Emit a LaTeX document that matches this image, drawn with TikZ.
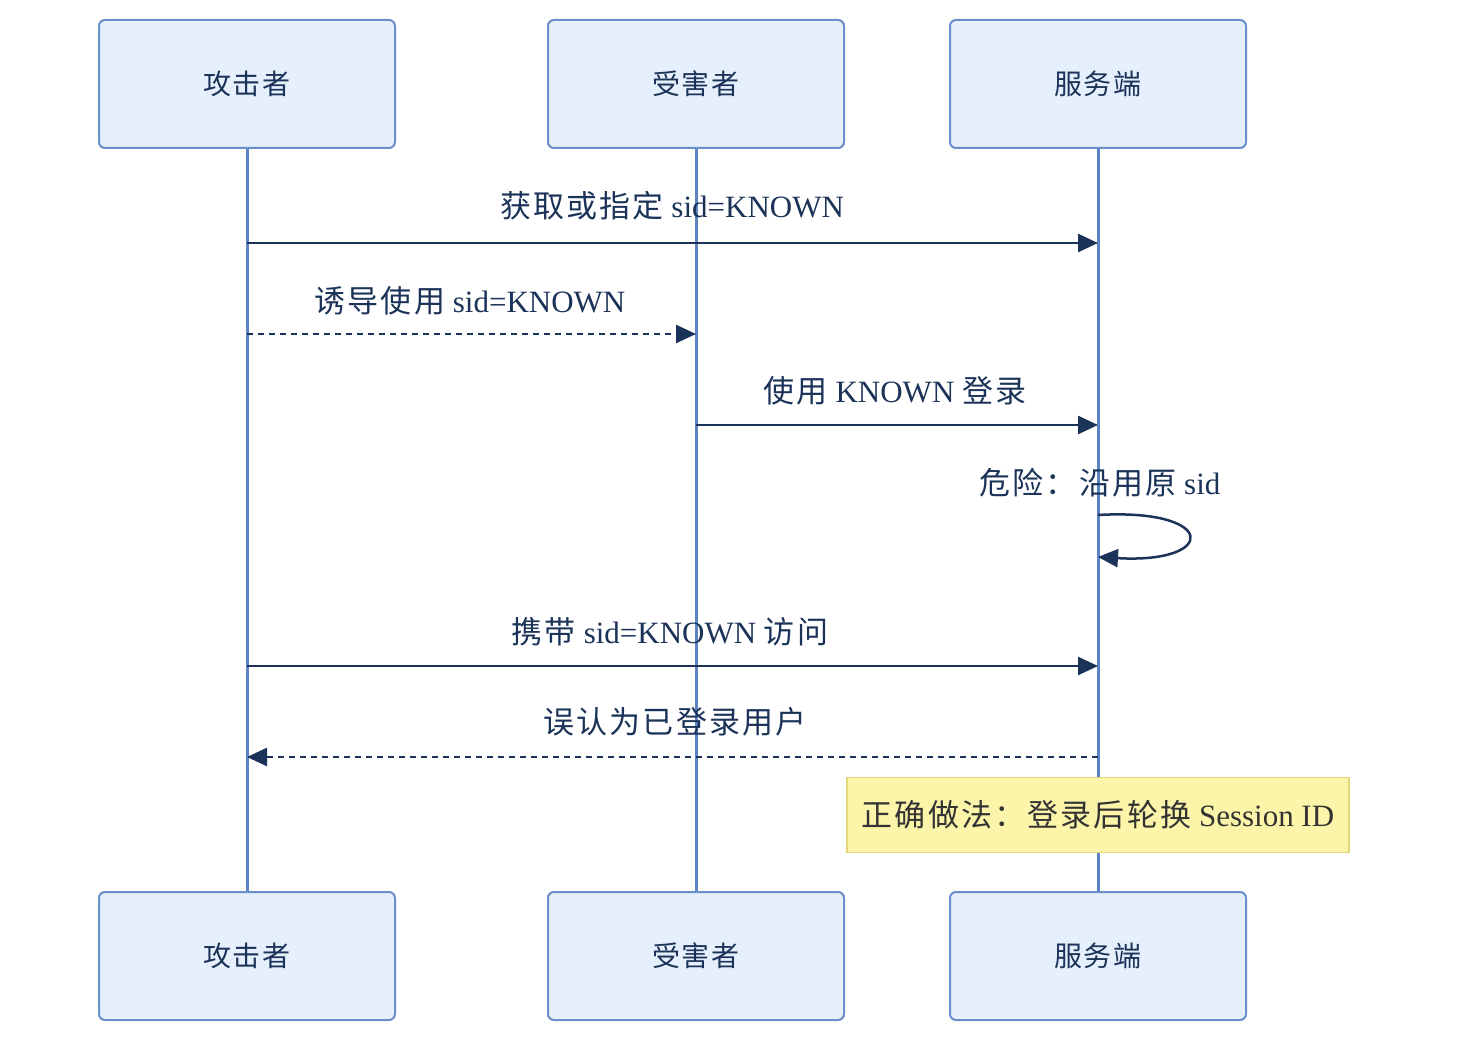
\documentclass[tikz,border=0pt]{standalone}
\usepackage{fontspec}
\setmainfont{Liberation Serif}
\newfontfamily\cjk[LetterSpace=7]{Noto Sans CJK SC}
\usetikzlibrary{arrows.meta}
\definecolor{actorfill}{HTML}{E6F0FC}
\definecolor{actorline}{HTML}{6A8FCB}
\definecolor{lifeline}{HTML}{5A84C2}
\definecolor{msgcolor}{HTML}{1B3358}
\definecolor{notefill}{HTML}{FCF4A9}
\definecolor{noteline}{HTML}{E2D77C}
\tikzstyle{actor}=[draw=actorline, fill=actorfill, line width=1pt, rounded corners=3pt, minimum width=148pt, minimum height=64pt, text=msgcolor, font=\cjk\fontsize{14}{17}\selectfont]
\tikzstyle{lifeline}=[draw=lifeline, line width=1.5pt]
\tikzstyle{message}=[draw=msgcolor, line width=1.25pt, -{Triangle[length=10pt,width=9pt]}]
\tikzstyle{reply}=[message, dash pattern=on 3pt off 2.5pt]
\tikzstyle{label}=[text=msgcolor, font=\fontsize{15.5}{18}\selectfont]
\tikzstyle{note}=[draw=noteline, fill=notefill, line width=0.8pt, minimum width=251pt, minimum height=37.5pt, text=black!80, font=\fontsize{15.5}{18}\selectfont]

\begin{document}
\begin{tikzpicture}[x=0.5pt, y=-0.5pt]
      \useasboundingbox (0, 0) rectangle (1464, 1054);
      % participants
      \node[actor] (att top) at (247, 84) {攻击者};
      \node[actor] (vic top) at (696, 84) {受害者};
      \node[actor] (srv top) at (1098, 84) {服务端};
      \node[actor] (att bot) at (247, 956) {攻击者};
      \node[actor] (vic bot) at (696, 956) {受害者};
      \node[actor] (srv bot) at (1098, 956) {服务端};
      \draw[lifeline] (att top) to (att bot);
      \draw[lifeline] (vic top) to (vic bot);
      \draw[lifeline] (srv top) to (srv bot);
      % message end points
      \coordinate (a1) at (247, 243);
      \coordinate (s1) at (1098, 243);
      \coordinate (a2) at (247, 334);
      \coordinate (v2) at (696, 334);
      \coordinate (v3) at (696, 425);
      \coordinate (s3) at (1098, 425);
      \coordinate (s4) at (1098, 515);
      \coordinate (s4 end) at (1098, 557);
      \coordinate (a5) at (247, 666);
      \coordinate (s5) at (1098, 666);
      \coordinate (a6) at (247, 757);
      \coordinate (s6) at (1098, 757);
      % messages
      \draw[message] (a1) to (s1);
      \node[label] (m1) at (672, 206) {{\cjk 获取或指定} sid=KNOWN};
      \draw[reply] (a2) to (v2);
      \node[label] (m2) at (470, 301) {{\cjk 诱导使用} sid=KNOWN};
      \draw[message] (v3) to (s3);
      \node[label] (m3) at (895, 391) {{\cjk 使用} KNOWN {\cjk 登录}};
      \draw[message] (s4) .. controls (1218, 508) and (1218, 564) .. (s4 end);
      \node[label] (m4) at (1100, 483) {{\cjk 危险：沿用原} sid};
      \draw[message] (a5) to (s5);
      \node[label] (m5) at (670, 632) {{\cjk 携带} sid=KNOWN {\cjk 访问}};
      \draw[reply] (s6) to (a6);
      \node[label] (m6) at (675, 722) {\cjk 误认为已登录用户};
      % note
      \node[note] (fix) at (1098, 815) {{\cjk 正确做法：登录后轮换} Session ID};
    \end{tikzpicture}
\end{document}
